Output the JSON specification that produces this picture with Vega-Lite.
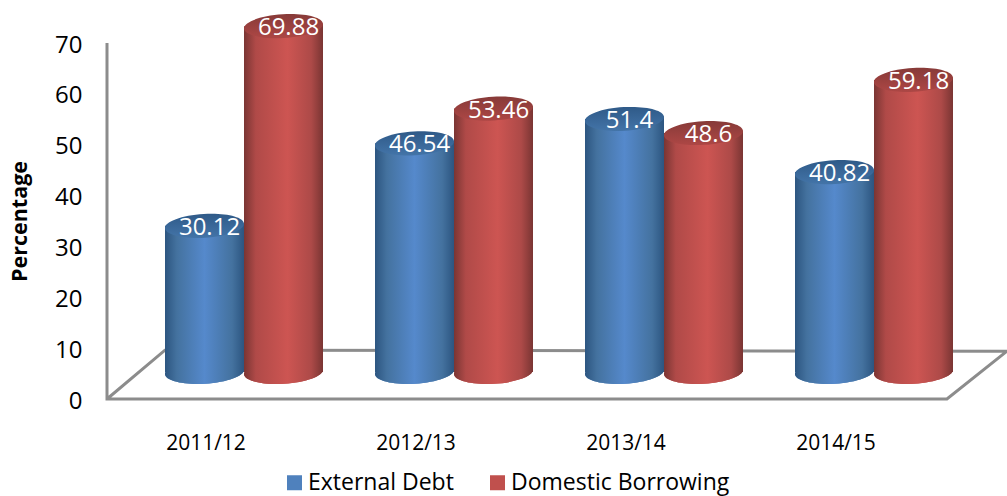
{
"$schema":"https://vega.github.io/schema/vega-lite/v6.json",
"width":900,"height":356,"autosize":"none",
"padding":{"left":107,"top":43,"right":0,"bottom":97},
"background":"white",
"config":{"view":{"stroke":null},"font":"Open Sans"},
"data":{"values":[
{"period":"2011/12","series":"External Debt","value":30.12},
{"period":"2011/12","series":"Domestic Borrowing","value":69.88},
{"period":"2012/13","series":"External Debt","value":46.54},
{"period":"2012/13","series":"Domestic Borrowing","value":53.46},
{"period":"2013/14","series":"External Debt","value":51.4},
{"period":"2013/14","series":"Domestic Borrowing","value":48.6},
{"period":"2014/15","series":"External Debt","value":40.82},
{"period":"2014/15","series":"Domestic Borrowing","value":59.18}
]},
"resolve":{"scale":{"x":"independent","y":"independent"}},
"layer":[
{"data":{"values":[
{"fx":0,"fy":70,"o":0},{"fx":0,"fy":0,"o":1},{"fx":4,"fy":0,"o":2},{"fx":4.286,"fy":9.4,"o":3},{"fx":0.276,"fy":9.6,"o":4},{"fx":0,"fy":0,"o":5}
]},
"mark":{"type":"line","color":"#8c8c8c","strokeWidth":3,"clip":false},
"encoding":{
"x":{"field":"fx","type":"quantitative","axis":null,"scale":{"domain":[0,4.286],"nice":false,"zero":false}},
"y":{"field":"fy","type":"quantitative","scale":{"domain":[0,70],"nice":false},
"axis":{"title":"Percentage","titleFontSize":21.5,"titleFontWeight":"bold","titleColor":"black","titlePadding":23,"values":[0,10,20,30,40,50,60,70],"labelFontSize":24,"labelColor":"black","labelPadding":25,"labelOffset":2,"ticks":false,"domain":false,"grid":false}},
"order":{"field":"o","type":"quantitative"}}
},
{"encoding":{
"x":{"field":"period","type":"nominal","scale":{"range":[0,840],"paddingInner":0,"paddingOuter":0},
"axis":{"title":null,"labelAngle":0,"labelFontSize":21,"labelColor":"black","labelPadding":33,"labelOffset":-6,"ticks":false,"domain":false,"grid":false}},
"xOffset":{"field":"series","type":"nominal","sort":["External Debt","Domestic Borrowing"],"scale":{"range":[58,216],"paddingInner":0,"paddingOuter":0}},
"y":{"field":"value","type":"quantitative","axis":null,"scale":{"domain":[-4.38,66.53],"nice":false,"zero":false}}
},
"layer":[
{"mark":{"type":"point","filled":true,"opacity":1,"size":6241,"strokeWidth":0,"shape":"M-1,0.06A1,0.3,-3.4,1,0,1,-0.06A1,0.3,-3.4,1,0,-1,0.06Z"},
"encoding":{
"y":{"datum":1},
"color":{"field":"series","type":"nominal","sort":["External Debt","Domestic Borrowing"],"scale":{"domain":["External Debt","Domestic Borrowing"],"range":["#4f81bd","#c0504d"]},
"legend":{"title":null,"orient":"none","legendX":176,"legendY":428,"direction":"horizontal","columns":2,"symbolType":"square","symbolSize":225,"symbolStrokeWidth":0,"labelFontSize":23,"labelColor":"black","columnPadding":32,"labelOffset":2,"labelLimit":300}}}},
{"transform":[{"filter":"datum.series==='External Debt'"}],
"mark":{"type":"point","filled":true,"opacity":1,"size":6241,"strokeWidth":0,"shape":"M-1,0.06A1,0.3,-3.4,1,0,1,-0.06A1,0.3,-3.4,1,0,-1,0.06Z",
"fill":{"gradient":"linear","x1":0,"x2":1,"y1":0,"y2":0,"stops":[{"offset":0,"color":"#2c5580"},{"offset":0.15,"color":"#44729f"},{"offset":0.5,"color":"#5589cc"},{"offset":0.85,"color":"#44729f"},{"offset":1,"color":"#2c5580"}]}},
"encoding":{"y":{"datum":1}}},
{"transform":[{"filter":"datum.series==='External Debt'"}],
"mark":{"type":"bar","fill":{"gradient":"linear","x1":0,"x2":1,"y1":0,"y2":0,"stops":[{"offset":0,"color":"#2c5580"},{"offset":0.15,"color":"#44729f"},{"offset":0.5,"color":"#5589cc"},{"offset":0.85,"color":"#44729f"},{"offset":1,"color":"#2c5580"}]}},
"encoding":{"y2":{"datum":1}}},
{"transform":[{"filter":"datum.series==='External Debt'"}],
"mark":{"type":"point","filled":true,"opacity":1,"size":6241,"strokeWidth":0,"shape":"M-1,0.06L-1,0.14L1,0.14L1,-0.06Z","fill":{"gradient":"linear","x1":0,"x2":1,"y1":0,"y2":0,"stops":[{"offset":0,"color":"#2c5580"},{"offset":0.15,"color":"#44729f"},{"offset":0.5,"color":"#5589cc"},{"offset":0.85,"color":"#44729f"},{"offset":1,"color":"#2c5580"}]}}},
{"transform":[{"filter":"datum.series==='External Debt'"}],
"mark":{"type":"point","filled":true,"opacity":1,"size":6241,"strokeWidth":0,"shape":"M-1,0.06A1,0.3,-3.4,1,1,1,-0.06A1,0.3,-3.4,1,1,-1,0.06Z","fill":{"gradient":"linear","x1":0,"x2":0,"y1":0,"y2":1,"stops":[{"offset":0,"color":"#2f5a88"},{"offset":1,"color":"#4374a8"}]}}},
{"transform":[{"filter":"datum.series==='Domestic Borrowing'"}],
"mark":{"type":"point","filled":true,"opacity":1,"size":6241,"strokeWidth":0,"shape":"M-1,0.06A1,0.3,-3.4,1,0,1,-0.06A1,0.3,-3.4,1,0,-1,0.06Z",
"fill":{"gradient":"linear","x1":0,"x2":1,"y1":0,"y2":0,"stops":[{"offset":0,"color":"#7a3533"},{"offset":0.15,"color":"#b04a48"},{"offset":0.55,"color":"#cd5552"},{"offset":0.85,"color":"#ad4a48"},{"offset":1,"color":"#7a3533"}]}},
"encoding":{"y":{"datum":1}}},
{"transform":[{"filter":"datum.series==='Domestic Borrowing'"}],
"mark":{"type":"bar","fill":{"gradient":"linear","x1":0,"x2":1,"y1":0,"y2":0,"stops":[{"offset":0,"color":"#7a3533"},{"offset":0.15,"color":"#b04a48"},{"offset":0.55,"color":"#cd5552"},{"offset":0.85,"color":"#ad4a48"},{"offset":1,"color":"#7a3533"}]}},
"encoding":{"y2":{"datum":1}}},
{"transform":[{"filter":"datum.series==='Domestic Borrowing'"}],
"mark":{"type":"point","filled":true,"opacity":1,"size":6241,"strokeWidth":0,"shape":"M-1,0.06L-1,0.14L1,0.14L1,-0.06Z","fill":{"gradient":"linear","x1":0,"x2":1,"y1":0,"y2":0,"stops":[{"offset":0,"color":"#7a3533"},{"offset":0.15,"color":"#b04a48"},{"offset":0.55,"color":"#cd5552"},{"offset":0.85,"color":"#ad4a48"},{"offset":1,"color":"#7a3533"}]}}},
{"transform":[{"filter":"datum.series==='Domestic Borrowing'"}],
"mark":{"type":"point","filled":true,"opacity":1,"size":6241,"strokeWidth":0,"shape":"M-1,0.06A1,0.3,-3.4,1,1,1,-0.06A1,0.3,-3.4,1,1,-1,0.06Z","fill":{"gradient":"linear","x1":0,"x2":0,"y1":0,"y2":1,"stops":[{"offset":0,"color":"#873a38"},{"offset":1,"color":"#ad4745"}]}}},
{"mark":{"type":"text","color":"white","fontSize":24,"dx":5,"dy":2,"baseline":"middle","align":"center"},
"encoding":{"text":{"field":"value","type":"quantitative"}}}
]}
]}
